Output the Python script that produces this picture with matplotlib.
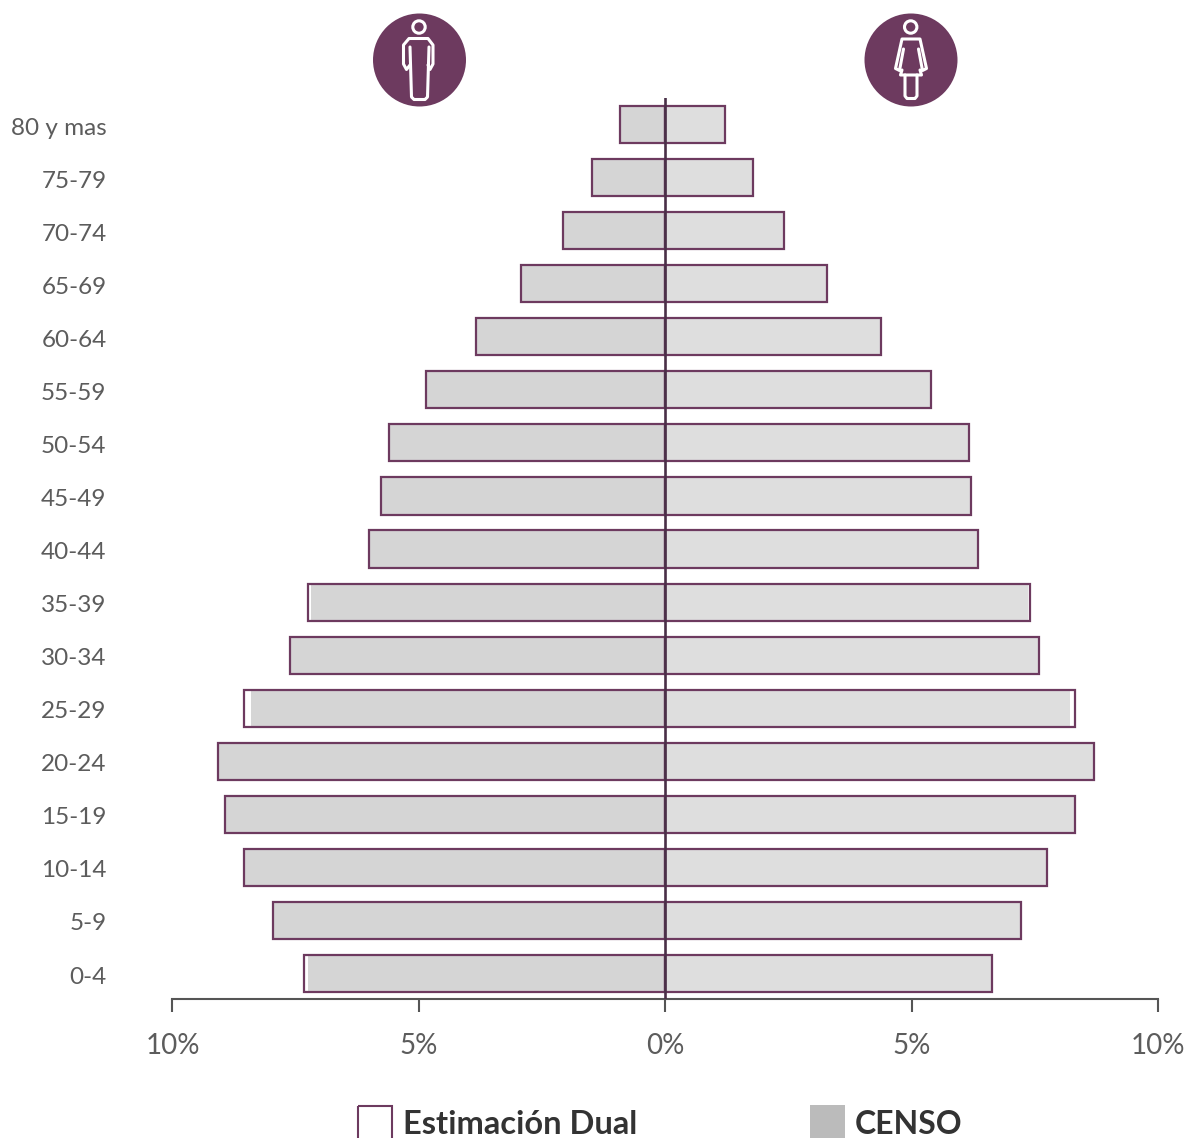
import matplotlib
matplotlib.use('Agg')
from matplotlib import pyplot as plt
from matplotlib.patches import Circle, Rectangle
from matplotlib.transforms import ScaledTranslation
import numpy as np

W, H = 1187, 1138
PURPLE = '#6d3a5f'
AXIS = '#555555'

age_groups = ['0-4', '5-9', '10-14', '15-19', '20-24', '25-29', '30-34', '35-39', '40-44',
              '45-49', '50-54', '55-59', '60-64', '65-69', '70-74', '75-79', '80 y mas']

# percent of population, youngest group first
dual_men = [7.33, 7.96, 8.55, 8.94, 9.08, 8.55, 7.62, 7.25, 6.01, 5.77, 5.61, 4.86, 3.84, 2.93, 2.08, 1.49, 0.92]
dual_women = [6.64, 7.21, 7.75, 8.32, 8.71, 8.32, 7.59, 7.40, 6.35, 6.20, 6.16, 5.39, 4.37, 3.28, 2.41, 1.79, 1.22]
censo_men = [7.25, 7.94, 8.53, 8.93, 9.05, 8.41, 7.60, 7.19, 5.99, 5.75, 5.59, 4.84, 3.82, 2.91, 2.06, 1.47, 0.90]
censo_women = [6.62, 7.19, 7.73, 8.30, 8.69, 8.22, 7.57, 7.37, 6.33, 6.18, 6.14, 5.37, 4.35, 3.26, 2.39, 1.77, 1.20]

xticks = [-10, -5, 0, 5, 10]
xtick_labels = ['10%', '5%', '0%', '5%', '10%']

plt.rcParams['font.family'] = ['Lato', 'DejaVu Sans']

fig = plt.figure(figsize=(W / 100, H / 100), dpi=100)

# main axes, placed in pixels
left, right, top, bottom = 172.5, 1158, 98, 998.5
ax = fig.add_axes([left / W, 1 - bottom / H, (right - left) / W, (bottom - top) / H])
y = np.arange(len(age_groups))
ax.set_xlim(-10, 10)
ax.set_ylim(-0.471, 16.5)

ax.barh(y, -np.array(censo_men), height=0.7, color='#d5d5d5', linewidth=0)
ax.barh(y, censo_women, height=0.7, color='#dedede', linewidth=0)
ax.barh(y, -np.array(dual_men), height=0.7, facecolor='none', edgecolor=PURPLE, linewidth=1.6)
ax.barh(y, dual_women, height=0.7, facecolor='none', edgecolor=PURPLE, linewidth=1.6)
ax.axvline(0, color='#4a3048', linewidth=1.9, zorder=5)

for side in ['top', 'left', 'right']:
    ax.spines[side].set_visible(False)
ax.spines['bottom'].set_color(AXIS)
ax.spines['bottom'].set_linewidth(1.5)

ax.set_xticks(xticks)
ax.set_xticklabels(xtick_labels, fontsize=20, color='#5c5c5c')
ax.tick_params(axis='x', length=9, width=1.5, color=AXIS, pad=15.5)
ax.set_yticks(y)
ax.set_yticklabels(age_groups, fontsize=17.5, color='#5c5c5c')
ax.tick_params(axis='y', length=0, pad=47.5)
# nudge the age labels down a little
nudge = ScaledTranslation(0, -1.5 / 100, fig.dpi_scale_trans)
for lab in ax.get_yticklabels():
    lab.set_transform(lab.get_transform() + nudge)

# overlay in pixel coordinates for the icons and the legend
over = fig.add_axes([0, 0, 1, 1], zorder=10)
over.set_xlim(0, W)
over.set_ylim(H, 0)
over.axis('off')


def outline(xs, ys):
    over.plot(xs, ys, color='white', linewidth=2.2, solid_joinstyle='round', solid_capstyle='round')


# man
over.add_patch(Circle((419.5, 60), 46.5, color=PURPLE, linewidth=0))
over.add_patch(Circle((419, 27), 6.2, facecolor='none', edgecolor='white', linewidth=2.2))
outline([410, 411.5, 414, 425, 427.5, 429], [47, 97, 99.5, 99.5, 97, 47])
outline([410, 406.5, 403.5, 403.5, 409, 428, 433, 433, 430, 428],
        [65, 69.5, 64, 45, 38.5, 38.5, 45, 64, 69.5, 65])

# woman
over.add_patch(Circle((911, 60), 46.5, color=PURPLE, linewidth=0))
over.add_patch(Circle((910.7, 27), 6.2, facecolor='none', edgecolor='white', linewidth=2.2))
outline([903.5, 899.5, 895.5, 902, 920, 926.5, 922.5, 918.5],
        [49, 70.5, 68.5, 39, 39, 68.5, 70.5, 49])
outline([902, 900.5, 921.5, 920], [70, 75, 75, 70])
outline([905, 905, 907, 915, 917, 917], [75, 96, 98.5, 98.5, 96, 75])

# legend
over.add_patch(Rectangle((358, 1106), 34, 40, facecolor='none', edgecolor=PURPLE, linewidth=1.5))
over.add_patch(Rectangle((810, 1105), 35, 40, facecolor='#bbbbbb', linewidth=0))
over.text(403, 1124.5, 'Estimación Dual', fontsize=23.5, fontweight='bold', color='#333333',
          va='center', ha='left')
over.text(855, 1124.5, 'CENSO', fontsize=23, fontweight='bold', color='#333333',
          va='center', ha='left')

fig.savefig('out.png', dpi=100)
